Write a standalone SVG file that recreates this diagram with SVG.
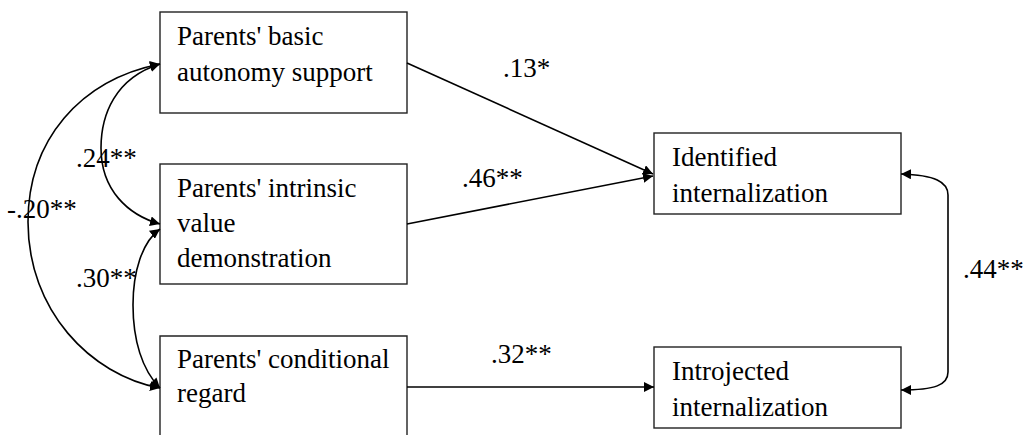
<svg xmlns="http://www.w3.org/2000/svg" width="1028" height="435" viewBox="0 0 1028 435">
<style>
.box{fill:#fff;stroke:#222;stroke-width:1.4}
.t{font-family:"Liberation Serif","Times New Roman",serif;font-size:27px;fill:#000}
.c{fill:none;stroke:#000;stroke-width:1.6}
</style>
<defs>
<marker id="ah" viewBox="0 0 10 10" refX="10" refY="5" markerWidth="10" markerHeight="10" markerUnits="userSpaceOnUse" orient="auto-start-reverse">
<path d="M0,0 L10,5 L0,10 z" fill="#000"/>
</marker>
</defs>
<rect width="1028" height="435" fill="#fff"/>
<g id="n1"><rect class="box" x="160" y="12" width="247" height="101"/>
<text class="t" x="177" y="45">Parents' basic</text><text class="t" x="177" y="81">autonomy support</text></g>
<g id="n2"><rect class="box" x="160" y="164" width="247" height="120"/>
<text class="t" x="177" y="197">Parents' intrinsic</text><text class="t" x="177" y="232">value</text><text class="t" x="177" y="267">demonstration</text></g>
<g id="n3"><path class="box" d="M160,440 L160,336 L407,336 L407,440"/>
<text class="t" x="177" y="368">Parents' conditional</text><text class="t" x="177" y="402">regard</text></g>
<g id="n4"><rect class="box" x="654" y="133" width="247" height="81"/>
<text class="t" x="672" y="166">Identified</text><text class="t" x="672" y="202">internalization</text></g>
<g id="n5"><rect class="box" x="654" y="347" width="247" height="81"/>
<text class="t" x="672" y="380">Introjected</text><text class="t" x="672" y="416">internalization</text></g>
<g id="connectors">
<path class="c" d="M407,63 L653,174" marker-end="url(#ah)"/>
<path class="c" d="M407,224 L653,176" marker-end="url(#ah)"/>
<path class="c" d="M407,387 L654,387" marker-end="url(#ah)"/>
<path class="c" d="M160,64 C80,80 28,140 28,222 C28,310 90,375 160,388" marker-start="url(#ah)" marker-end="url(#ah)"/>
<path class="c" d="M160,64 C115,78 101,115 101,148 C101,190 128,215 160,224" marker-start="url(#ah)" marker-end="url(#ah)"/>
<path class="c" d="M160,229 C142,242 133,272 133,305 C133,340 142,370 160,388" marker-start="url(#ah)" marker-end="url(#ah)"/>
<path class="c" d="M901,174 C935,175 948,182 948,195 L948,372 C948,385 935,390 901,390" marker-start="url(#ah)" marker-end="url(#ah)"/>
<text class="t" x="503" y="77">.13*</text>
<text class="t" x="462" y="187">.46**</text>
<text class="t" x="491" y="363">.32**</text>
<text class="t" x="963" y="278">.44**</text>
<text class="t" x="76" y="167">.24**</text>
<text class="t" x="7" y="218">-.20**</text>
<text class="t" x="76" y="287">.30**</text>
</g>
</svg>
